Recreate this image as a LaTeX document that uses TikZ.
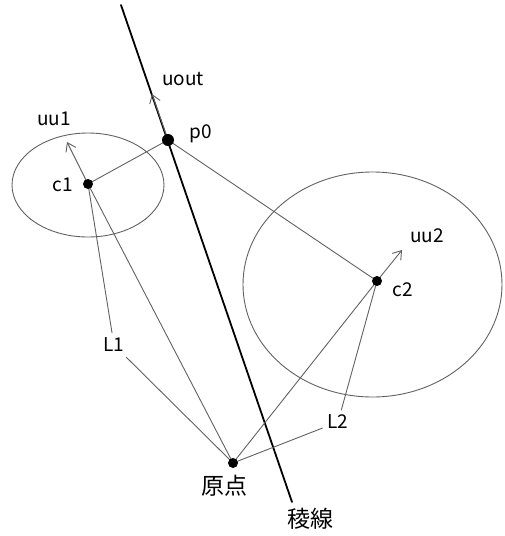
\documentclass[tikz,border=0pt]{standalone}
\usepackage{fontspec}
\setmainfont{Noto Sans CJK JP}
\usetikzlibrary{arrows.meta,positioning}

\begin{document}
\begin{tikzpicture}[x=1pt,y=-1pt,line cap=round,line join=round,
  guide/.style={draw=black!62,line width=0.9pt},
  vec/.style={guide,-{Straight Barb[length=8pt,width=11pt]}},
  lbl/.style={font=\fontsize{19}{19}\selectfont,inner sep=1pt},
  jlbl/.style={font=\fontsize{23}{23}\selectfont,inner sep=1pt},
  gap/.style={lbl,inner sep=5pt}]
  \useasboundingbox (0,0) rectangle (505,536);
  \coordinate (top) at (121,5);
  \coordinate (bot) at (292,502);
  \coordinate (p0) at (168,140);
  \coordinate (c1) at (88,184);
  \coordinate (c2) at (377,281);
  \coordinate (O) at (233,463);
  \coordinate (uu1) at (67,142);
  \coordinate (uu2) at (402,250);
  \coordinate (uout) at (152,94);
  % regions
  \draw[guide] (88,185) ellipse [x radius=76pt, y radius=52pt];
  \draw[guide] (372.5,284.5) ellipse [x radius=129.5pt, y radius=112.5pt];
  % ridge line
  \draw[line width=1.8pt] (top) -- (bot);
  \node[jlbl] (tridge) at (310,519) {稜線};
  % labels on the L vectors
  \node[gap] (L1) at (114,345) {L1};
  \node[gap] (L2) at (338,422) {L2};
  \draw[guide] (c1) -- (p0) -- (c2);
  \draw[guide] (O) -- (c1);
  \draw[guide] (O) -- (c2);
  \draw[guide] (O) -- (L1) -- (c1);
  \draw[guide] (O) -- (L2) -- (c2);
  \draw[vec] (c1) -- (uu1);
  \draw[vec] (c2) -- (uu2);
  \draw[vec] (p0) -- (uout);
  \fill (p0) circle (6pt);
  \fill (c1) circle (5pt);
  \fill (c2) circle (5pt);
  \fill (O) circle (5pt);
  \node[lbl] (tp0) at (201,134) {p0};
  \node[lbl] (tc1) at (63,185) {c1};
  \node[lbl] (tc2) at (403,290) {c2};
  \node[lbl] (tuu1) at (54,119) {uu1};
  \node[lbl] (tuu2) at (427,236) {uu2};
  \node[lbl] (tuout) at (183,79) {uout};
  \node[jlbl] (tO) at (224,486) {原点};

\end{tikzpicture}
\end{document}
